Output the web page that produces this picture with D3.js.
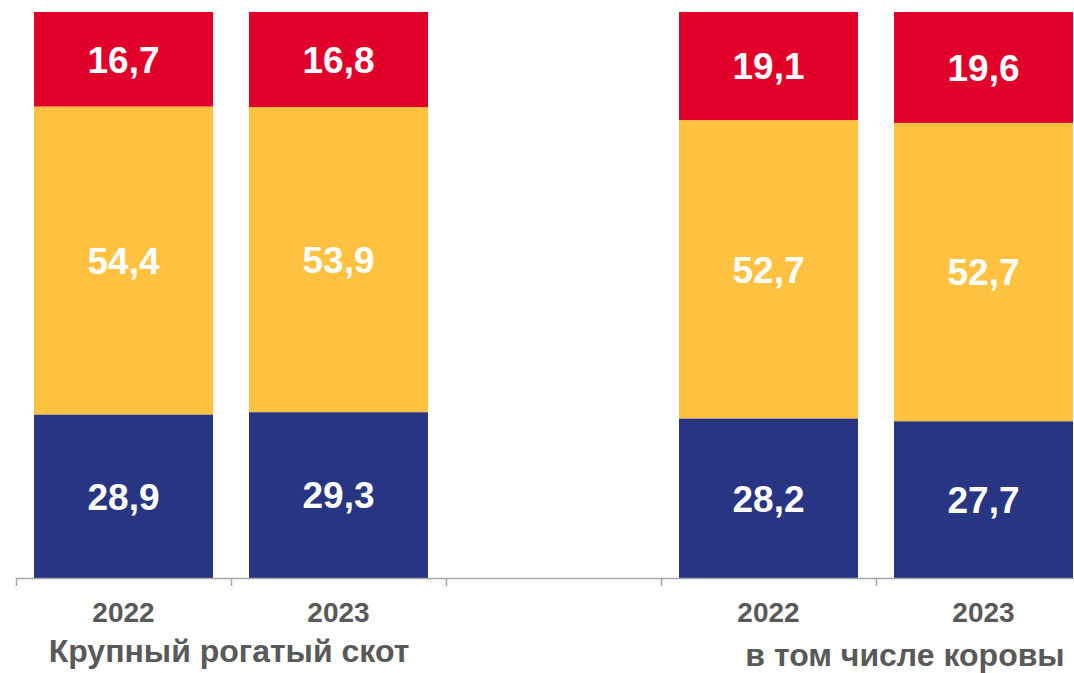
<!DOCTYPE html>
<html><head><meta charset="utf-8">
<script src="https://cdn.jsdelivr.net/npm/d3@7"></script>
<style>body{margin:0;background:#fff}svg{display:block}</style>
</head><body>
<svg id="c" width="1074" height="673"></svg>
<script>
const categories = ["k2022", "k2023", "gap", "c2022", "c2023"];
const tickLabels = ["2022", "2023", "", "2022", "2023"];
const seriesNames = ["bottom", "middle", "top"];
const bottomValues = [28.9, 29.3, null, 28.2, 27.7];
const middleValues = [54.4, 53.9, null, 52.7, 52.7];
const topValues = [16.7, 16.8, null, 19.1, 19.6];
const groupLabels = ["Крупный рогатый скот", "в том числе коровы"];
const colors = ["#283583", "#FFC240", "#E1002A"];

const svg = d3.select("#c");
const x = d3.scaleBand().domain(categories).range([16, 1091])
  .paddingInner(36/215).paddingOuter(18/215);
const y = d3.scaleLinear().domain([0, 100]).range([578, 12]);

const rows = categories.map((c, i) => ({cat: c, bottom: bottomValues[i], middle: middleValues[i], top: topValues[i]}))
  .filter(d => d.bottom != null);
const stack = d3.stack().keys(seriesNames)(rows);
const fmt = v => v.toFixed(1).replace(".", ",");

stack.forEach((layer, li) => {
  const g = svg.append("g");
  g.selectAll("rect").data(layer).join("rect")
    .attr("x", d => x(d.data.cat)).attr("width", x.bandwidth())
    .attr("y", d => y(d[1])).attr("height", d => y(d[0]) - y(d[1]))
    .attr("fill", colors[li]);
  g.selectAll("text").data(layer).join("text")
    .attr("x", d => x(d.data.cat) + x.bandwidth()/2)
    .attr("y", d => (y(d[0]) + y(d[1]))/2)
    .attr("dy", "0.36em")
    .attr("text-anchor", "middle")
    .attr("font-family", "'Liberation Sans', Arial, sans-serif")
    .attr("font-weight", "bold").attr("font-size", 37)
    .attr("fill", "#fff")
    .text(d => fmt(d.data[seriesNames[li]]));
});

// axis
const step = x.step();
const axisG = svg.append("g");
axisG.append("line").attr("x1", 16).attr("x2", 1091).attr("y1", 578.5).attr("y2", 578.5)
  .attr("stroke", "#a6a6a6").attr("stroke-width", 1.5);
const bounds = categories.map(c => x(c) - x.paddingInner()*step/2);
bounds.forEach(b => {
  axisG.append("line").attr("x1", Math.round(b)+0.5).attr("x2", Math.round(b)+0.5)
    .attr("y1", 578).attr("y2", 586).attr("stroke", "#a6a6a6").attr("stroke-width", 1.5);
});
categories.forEach((c, i) => {
  axisG.append("text").attr("x", x(c) + x.bandwidth()/2).attr("y", 622)
    .attr("text-anchor", "middle")
    .attr("font-family", "'Liberation Sans', Arial, sans-serif")
    .attr("font-weight", "bold").attr("font-size", 28).attr("fill", "#595959")
    .text(tickLabels[i]);
});
const groupX = [ (x("k2022") + x("k2023") + x.bandwidth())/2 - 2, 905 ];
const groupY = [662, 666];
groupLabels.forEach((t, i) => {
  svg.append("text").attr("x", groupX[i]).attr("y", groupY[i])
    .attr("text-anchor", "middle")
    .attr("font-family", "'Liberation Sans', Arial, sans-serif")
    .attr("font-weight", "bold").attr("font-size", 32).attr("fill", "#595959")
    .text(t);
});
</script>
</body></html>
